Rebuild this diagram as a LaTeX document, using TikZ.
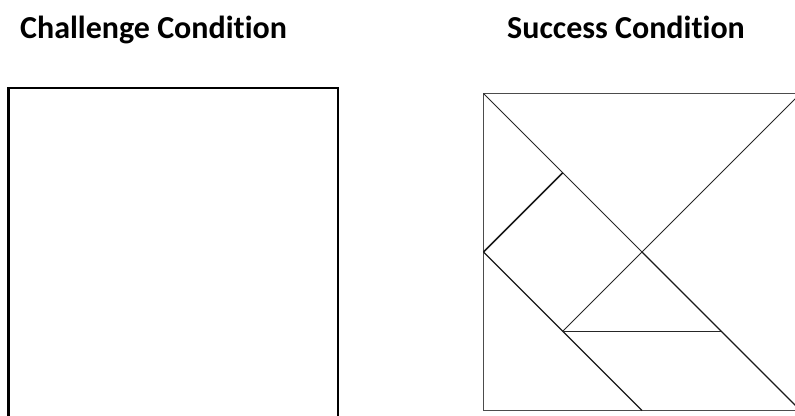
\documentclass[tikz,border=0pt]{standalone}
\usepackage{fontspec}
\setmainfont[Ligatures=NoCommon]{Carlito}
\begin{document}
\begin{tikzpicture}[x=1pt,y=-1pt,
  title/.style={font=\bfseries\fontsize{32}{36}\selectfont, anchor=base west, inner sep=0pt},
  thin line/.style={line width=1pt, black!85},
  bold line/.style={line width=1.7pt, black!90}]
\useasboundingbox (0,0) rectangle (795,415);
\begin{scope}
\clip (0,0) rectangle (795,415);
\node[title] (t1) at (20,38.5) {Challenge Condition};
\node[title] (t2) at (507,38.5) {Success Condition};
% challenge rectangle (bottom edge outside the picture)
\draw[line width=2.2pt] (8.5,430) -- (8.5,88) -- (338,88) -- (338,430);
% tangram square
\coordinate (TL) at (483.5,93.5);
\coordinate (TR) at (800.5,93.5);
\coordinate (BR) at (800.5,410.5);
\coordinate (BL) at (483.5,410.5);
\coordinate (X) at (642,252);
\coordinate (K) at (483.5,252);
\coordinate (P) at (562.75,172.75);
\coordinate (Q) at (562.75,331.25);
\coordinate (R) at (721.25,331.25);
\coordinate (B) at (642,410.5);
\draw[thin line, black!70] (TL) -- (TR) -- (BR) -- (BL) -- cycle;
\draw[thin line] (TL) -- (X);
\draw[bold line, line width=1.4pt] (X) -- (BR);
\draw[thin line] (TR) -- (Q);
\draw[bold line] (P) -- (K);
\draw[bold line, line width=1.4pt] (K) -- (B);
\draw[thin line] (Q) -- (R);
\end{scope}
\end{tikzpicture}
\end{document}
